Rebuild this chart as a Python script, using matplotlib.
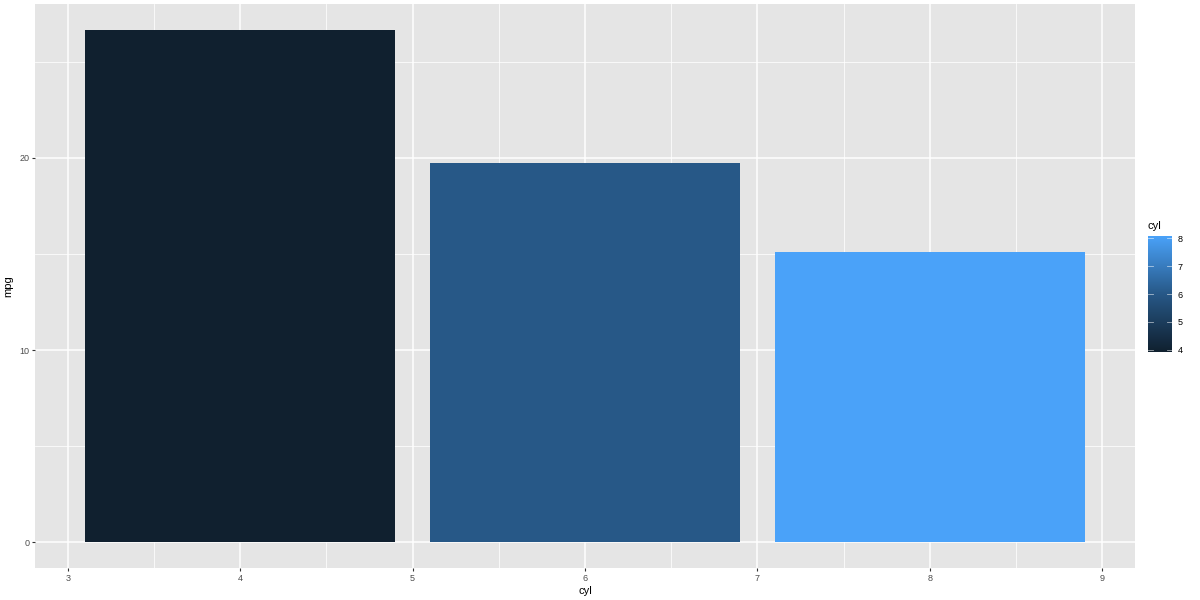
import numpy as np
import matplotlib
matplotlib.use('Agg')
import matplotlib.pyplot as plt
from matplotlib.colors import LinearSegmentedColormap, Normalize
from matplotlib.ticker import MultipleLocator

# mean mpg by number of cylinders (mtcars)
cyl = [4, 6, 8]
mpg = [26.66, 19.74, 15.10]

x_ticks = [3, 4, 5, 6, 7, 8, 9]
y_ticks = [0, 10, 20]
leg_ticks = [4, 5, 6, 7, 8]

plt.rcParams['font.family'] = ['Liberation Sans', 'DejaVu Sans']

# gradient like ggplot's default (interpolated in Lab, so mid is darker)
cmap = LinearSegmentedColormap.from_list('gg', ['#10202F', '#275887', '#4AA2F9'])
norm = Normalize(vmin=min(cyl), vmax=max(cyl))

fig = plt.figure(figsize=(12, 6), dpi=100)
fig.set_facecolor('white')
ax = fig.add_axes([35 / 1200, 1 - 568 / 600, 1100 / 1200, 564 / 600])
ax.set_facecolor('#E5E5E5')

ax.bar(cyl, mpg, width=1.8, color=[cmap(norm(c)) for c in cyl], zorder=3)

ax.set_xlim(3.1 - 0.29, 8.9 + 0.29)
ax.set_ylim(-0.05 * max(mpg), 1.05 * max(mpg))
ax.set_xticks(x_ticks)
ax.set_yticks(y_ticks)
ax.xaxis.set_minor_locator(MultipleLocator(0.5))
ax.yaxis.set_minor_locator(MultipleLocator(5))
ax.grid(which='major', color='white', linewidth=1.1, zorder=1)
ax.grid(which='minor', color='white', linewidth=0.55, zorder=1)
ax.set_axisbelow(True)
for s in ax.spines.values():
    s.set_visible(False)
ax.tick_params(which='major', length=2.2, width=0.8, color='#333333',
               labelsize=6.5, labelcolor='#4D4D4D', pad=2)
ax.tick_params(which='minor', length=0)
ax.set_xlabel('cyl', fontsize=8, color='black', labelpad=2)
ax.set_ylabel('mpg', fontsize=8, color='black', labelpad=4)

# legend colourbar
cax = fig.add_axes([1148 / 1200, 1 - 352 / 600, 24 / 1200, 116 / 600])
grad = np.linspace(0, 1, 256).reshape(-1, 1)
cax.imshow(grad, aspect='auto', cmap=cmap, origin='lower',
           extent=[0, 1, 3.92, 8.08])
cax.set_xlim(0, 1)
cax.set_ylim(3.92, 8.08)
for t in leg_ticks:
    cax.plot([0, 0.2], [t, t], color='white', alpha=0.6, linewidth=0.6)
    cax.plot([0.8, 1], [t, t], color='white', alpha=0.6, linewidth=0.6)
cax.set_xticks([])
cax.yaxis.tick_right()
cax.set_yticks(leg_ticks)
cax.tick_params(length=0, labelsize=6.5, labelcolor='black', pad=4)
for s in cax.spines.values():
    s.set_visible(False)
fig.text(1148 / 1200, 1 - 231 / 600, 'cyl', fontsize=8, ha='left', va='bottom')

fig.savefig('out.png', dpi=100)
